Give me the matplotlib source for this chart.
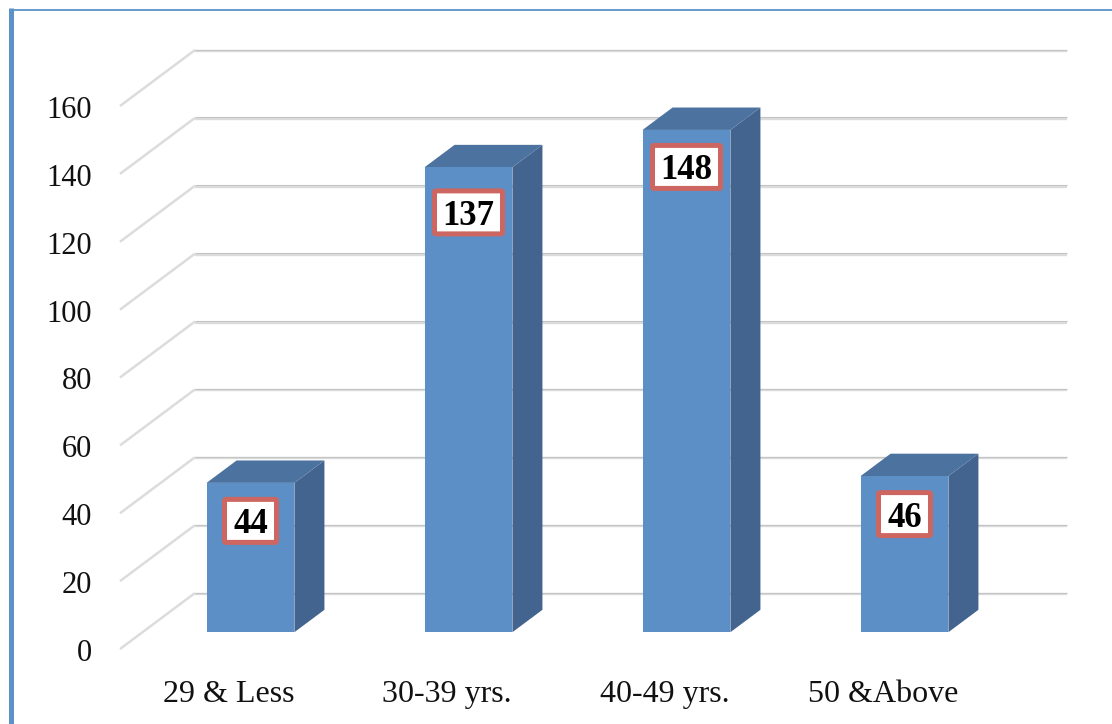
import matplotlib
matplotlib.use("Agg")
import matplotlib.pyplot as plt
from matplotlib.lines import Line2D
from matplotlib.patches import FancyBboxPatch, Polygon
from matplotlib.transforms import IdentityTransform, ScaledTranslation

categories = ["29 & Less", "30-39 yrs.", "40-49 yrs.", "50 &Above"]
values = [44, 137, 148, 46]
y_ticks = [0, 20, 40, 60, 80, 100, 120, 140, 160]

# label centre sits this far (in value units) under the bar top
label_drop = [11.2, 13.3, 10.9, 11.2]

W, H = 1112, 724
FRONT_L, FRONT_R = 120, 992
Y0_PX, Y160_PX = 649, 106
DEPTH_X, DEPTH_Y = 75, 56   # wall offset in pixels
BAR_D0, BAR_D1 = 0.30, 0.70
BAR_W = 0.403

plt.rcParams["font.family"] = ["Liberation Serif", "DejaVu Serif"]

fig = plt.figure(figsize=(W / 100, H / 100), dpi=100)
ax = fig.add_axes([FRONT_L / W, 1 - Y0_PX / H, (FRONT_R - FRONT_L) / W, (Y0_PX - Y160_PX) / H])
ax.set_xlim(-0.5, len(categories) - 0.5)
ax.set_ylim(0, 160)
ax.patch.set_visible(False)
for s in ax.spines.values():
    s.set_visible(False)

px_x = (len(categories)) / (FRONT_R - FRONT_L)
px_y = 160 / (Y0_PX - Y160_PX)
BAR_SHIFT = -1 * px_x


def proj(x, v, d):
    # oblique projection: d=0 is the front edge of the floor, d=1 the back wall
    return x + DEPTH_X * d * px_x, v + DEPTH_Y * d * px_y


# walls: slanted side line plus long back line for each tick
for v in y_ticks:
    xa, ya = proj(-0.5, v, 0)
    xb, yb = proj(-0.5, v, 1)
    xc, yc = proj(len(categories) - 0.5, v, 1)
    ax.plot([xa, xb], [ya, yb], color="#dcdcdc", lw=1.8, clip_on=False, zorder=1,
            solid_capstyle="butt")
    ax.plot([xb, xc], [yb - 0.3, yc - 0.3], color="#dcdcdc", lw=1.7, clip_on=False, zorder=1,
            solid_capstyle="butt")
    ax.plot([xb, xc], [yb + 0.12, yc + 0.12], color="#c4c4c4", lw=0.8, clip_on=False, zorder=1,
            solid_capstyle="butt")

# bars
for i, v in enumerate(values):
    l, r = i + BAR_SHIFT - BAR_W / 2, i + BAR_SHIFT + BAR_W / 2
    side = [proj(r, 0, BAR_D0), proj(r, 0, BAR_D1), proj(r, v, BAR_D1), proj(r, v, BAR_D0)]
    top = [proj(l, v, BAR_D0), proj(r, v, BAR_D0), proj(r, v, BAR_D1), proj(l, v, BAR_D1)]
    front = [proj(l, 0, BAR_D0), proj(r, 0, BAR_D0), proj(r, v, BAR_D0), proj(l, v, BAR_D0)]
    ax.add_patch(Polygon(side, closed=True, fc="#42648f", ec="none", clip_on=False, zorder=3))
    ax.add_patch(Polygon(top, closed=True, fc="#4c72a0", ec="none", clip_on=False, zorder=3))
    ax.add_patch(Polygon(front, closed=True, fc="#5b8fc5", ec="none", clip_on=False, zorder=4))

# value labels in red-edged boxes
for i, v in enumerate(values):
    cx, cy = proj(i + BAR_SHIFT, v - label_drop[i], BAR_D0)
    px, py = ax.transData.transform((cx, cy))
    half_w = 26 if v < 100 else 34
    half_h = 21.5
    ax.add_artist(FancyBboxPatch((px - half_w, py - half_h), 2 * half_w, 2 * half_h,
                                 boxstyle="round,pad=0,rounding_size=1.5",
                                 fc="white", ec="#cd6660", lw=3.6,
                                 transform=IdentityTransform(), zorder=5, clip_on=False))
    ax.text(cx, cy, str(v), ha="center", va="center_baseline", fontsize=25, fontweight="bold",
            color="black", zorder=6, clip_on=False)

ax.set_yticks(y_ticks)
ax.set_yticklabels([str(t) for t in y_ticks], fontsize=22, color="#111111")
ax.set_xticks(range(len(categories)))
ax.set_xticklabels(categories, fontsize=23, color="#111111")
ax.tick_params(axis="y", length=0, pad=20)
ax.tick_params(axis="x", length=0, pad=22.5)

# tick numbers sit slightly lower than their gridline start
down = ScaledTranslation(0, -0.7 / 72, fig.dpi_scale_trans)
for lab in ax.get_yticklabels():
    lab.set_transform(lab.get_transform() + down)

# page border, left and top
fig.add_artist(Line2D([11 / W, 11 / W], [0, 1 - 8 / H], color="#5b93c9", lw=3.6, solid_capstyle="butt"))
fig.add_artist(Line2D([9 / W, 1], [1 - 10 / H, 1 - 10 / H], color="#5b93c9", lw=1.3, solid_capstyle="butt"))

fig.savefig("out.png", dpi=100)
